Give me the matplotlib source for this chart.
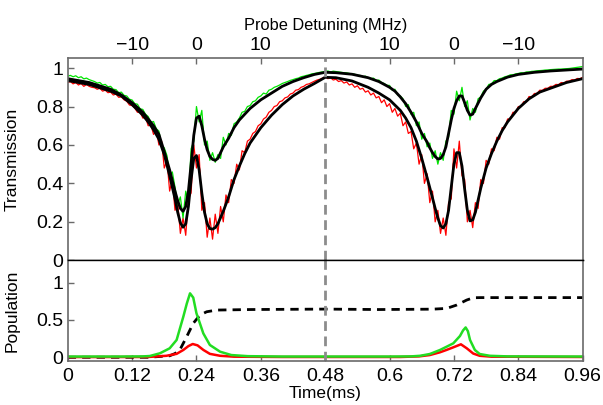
import numpy as np
import matplotlib
matplotlib.use("Agg")
import matplotlib.pyplot as plt

plt.rcParams['font.family'] = ['Liberation Sans', 'DejaVu Sans']

# ---------------- data ----------------
# noisy transmission traces, sampled every 0.005 ms from 0 to 0.96 ms
t_data = np.arange(193) * 0.005

green_data = [
    .958, .962, .955, .960, .950, .955, .944, .948, .940, .935,
    .930, .922, .925, .912, .915, .903, .905, .890, .888, .872,
    .875, .858, .855, .838, .834, .815, .812, .788, .785, .760,
    .748, .718, .722, .685, .672, .598, .585, .545, .442, .460,
    .380, .290, .330, .220, .360, .300, .580, .620, .800, .720,
    .780, .600, .620, .520, .560, .510, .550, .530, .640, .600,
    .660, .650, .710, .720, .740, .770, .775, .800, .805, .825,
    .830, .848, .855, .870, .865, .885, .890, .900, .905, .912,
    .920, .925, .930, .936, .940, .945, .948, .955, .958, .962,
    .965, .970, .972, .975, .978, .980, .982,
    .985, .980, .984, .982, .980, .978, .976, .975, .972, .970,
    .968, .962, .962, .955, .958, .950, .945, .948, .935, .938,
    .925, .920, .910, .910, .885, .890, .860, .855, .840, .800,
    .810, .760, .770, .700, .720, .630, .660, .590, .610, .530,
    .570, .500, .560, .520, .620, .640, .780, .760, .880, .830,
    .900, .800, .830, .730, .790, .770, .840, .850, .880, .890,
    .915, .918, .935, .935, .945, .948, .955, .958, .965, .965,
    .970, .972, .976, .975, .980, .980, .983, .984, .986, .987,
    .988, .990, .990, .992, .993, .994, .995, .995, .996, .997,
    .998, 1.0, 1.002, 1.004, 1.006, 1.008,
]

red_data = [
    .925, .930, .918, .925, .912, .920, .905, .915, .905, .900,
    .898, .890, .895, .880, .885, .872, .875, .860, .865, .848,
    .850, .835, .828, .808, .805, .792, .770, .772, .740, .745,
    .700, .705, .655, .680, .600, .620, .480, .520, .360, .420,
    .260, .300, .140, .220, .130, .320, .350, .600, .480, .550,
    .260, .300, .120, .220, .110, .240, .140, .280, .200, .340,
    .300, .420, .400, .500, .470, .570, .560, .620, .630, .660,
    .670, .700, .710, .735, .745, .770, .780, .800, .805, .825,
    .830, .845, .850, .865, .870, .885, .888, .900, .905, .915,
    .918, .925, .932, .938, .942, .948, .955,
    .945, .950, .938, .942, .930, .935, .922, .928, .912, .918,
    .900, .908, .890, .895, .875, .882, .860, .870, .845, .852,
    .820, .835, .800, .815, .770, .790, .750, .765, .700, .720,
    .660, .670, .580, .610, .500, .550, .400, .450, .300, .360,
    .200, .260, .140, .220, .130, .300, .320, .580, .480, .620,
    .440, .420, .200, .260, .170, .300, .270, .420, .400, .520,
    .500, .580, .570, .640, .630, .690, .690, .735, .735, .770,
    .770, .800, .800, .825, .825, .852, .850, .868, .868, .885,
    .884, .895, .895, .905, .905, .915, .914, .925, .922, .932,
    .932, .940, .938, .946, .945, .952,
]

# fitted transmission curves (knots)
green_fit_t = [0, .04, .08, .10, .12, .14, .15, .16, .17, .18, .19, .20, .205,
               .21, .215, .22, .225, .23, .235, .24, .245, .25, .255, .26, .265,
               .27, .275, .28, .29, .30, .31, .32, .34, .36, .38, .40, .42, .44,
               .46, .48, .50, .53, .56, .58, .60, .61, .62, .63, .64, .65, .66,
               .67, .675, .68, .685, .69, .695, .70, .705, .71, .715, .72, .725,
               .73, .735, .74, .745, .75, .755, .76, .77, .78, .79, .80, .82,
               .84, .87, .90, .93, .96]
green_fit = [.945, .925, .89, .86, .82, .77, .735, .70, .655, .565, .47, .36,
             .31, .27, .255, .28, .36, .50, .65, .74, .75, .70, .63, .575, .54,
             .525, .52, .53, .59, .635, .69, .73, .79, .835, .87, .905, .93,
             .95, .967, .978, .976, .968, .95, .93, .90, .88, .85, .815, .77,
             .72, .66, .615, .585, .56, .54, .527, .53, .55, .59, .66, .73,
             .79, .83, .855, .855, .82, .78, .755, .76, .79, .845, .89, .915,
             .93, .953, .967, .978, .985, .99, .995]

red_fit_t = [0, .04, .08, .10, .12, .14, .15, .16, .17, .18, .19, .20, .205,
             .21, .215, .22, .225, .23, .235, .24, .245, .25, .255, .26, .265,
             .27, .275, .28, .29, .30, .31, .32, .33, .34, .36, .38, .40, .42,
             .44, .46, .48, .50, .53, .56, .58, .60, .62, .63, .64, .65, .66,
             .67, .68, .685, .69, .695, .70, .705, .71, .715, .72, .725, .73,
             .735, .74, .745, .75, .755, .76, .77, .78, .79, .80, .81, .82,
             .84, .86, .88, .90, .93, .96]
red_fit = [.935, .915, .88, .855, .81, .755, .72, .68, .63, .55, .44, .32,
           .25, .195, .172, .19, .28, .42, .53, .545, .47, .35, .25, .19, .165,
           .162, .17, .19, .255, .33, .42, .49, .555, .61, .69, .755, .81,
           .855, .89, .92, .952, .95, .933, .90, .87, .835, .78, .74, .69,
           .62, .53, .43, .325, .27, .22, .18, .168, .19, .26, .38, .50, .56,
           .56, .49, .37, .26, .205, .21, .25, .375, .48, .555, .62, .675,
           .72, .79, .84, .875, .895, .925, .945]

# populations
green_pop_t = [0, .10, .14, .153, .172, .19, .203, .2155, .222, .228, .234,
               .240, .2528, .265, .284, .305, .336, .40, .60, .64, .657, .675,
               .694, .7064, .7188, .7312, .737, .7418, .746, .75, .759, .768,
               .787, .82, .96]
green_pop = [.01, .01, .012, .017, .054, .12, .232, .544, .72, .857, .80, .59,
             .32, .165, .075, .03, .015, .01, .01, .012, .02, .044, .098, .142,
             .187, .285, .36, .40, .35, .232, .098, .044, .02, .012, .01]

red_pop_t = [0, .15, .184, .203, .2155, .225, .233, .242, .253, .265, .284,
             .31, .40, .62, .655, .675, .694, .706, .719, .733, .744, .756,
             .768, .79, .96]
red_pop = [.003, .004, .02, .046, .098, .15, .178, .16, .098, .046, .02, .008,
           .004, .004, .012, .03, .067, .098, .134, .174, .12, .05, .02, .008,
           .004]

total_pop_t = [0, .15, .19, .20, .209, .2218, .234, .2466, .259, .2777, .34,
               .48, .58, .68, .7064, .725, .7437, .756, .77, .96]
total_pop = [0, 0, .02, .05, .098, .276, .455, .566, .61, .633, .64, .646,
             .64, .645, .655, .70, .767, .798, .80, .80]

time_ticks = [0, 0.12, 0.24, 0.36, 0.48, 0.6, 0.72, 0.84, 0.96]
time_labels = ['0', '0.12', '0.24', '0.36', '0.48', '0.6', '0.72', '0.84', '0.96']
detuning_ticks = [0.12, 0.24, 0.36, 0.6, 0.72, 0.84]
detuning_labels = ['\u221210', '0', '10', '10', '0', '\u221210']
switch_time = 0.48

# ---------------- figure ----------------
fs_tick = 14
frame = '#6a6a6a'
green = '#00e400'
fig = plt.figure(figsize=(6.03, 4.05), dpi=100)
ax1 = fig.add_axes([0.1123, 0.3573, 0.854, 0.4983])
ax2 = fig.add_axes([0.1123, 0.1086, 0.854, 0.2487])

ax1.plot(t_data, red_data, color='#ff0000', lw=0.9)
ax1.plot(t_data, green_data, color=green, lw=0.9)
ax1.plot(green_fit_t, green_fit, color='black', lw=2)
ax1.plot(red_fit_t, red_fit, color='black', lw=2)
ax1.axvline(switch_time, color='#8c8c8c', lw=2, dashes=(3.5, 2))

ax1.set_xlim(0, 0.96)
ax1.set_ylim(0, 1.05)
ax1.set_yticks([0, 0.2, 0.4, 0.6, 0.8, 1])
ax1.set_yticklabels(['0', '0.2', '0.4', '0.6', '0.8', '1'])
ax1.xaxis.tick_top()
ax1.xaxis.set_label_position('top')
ax1.set_xticks(detuning_ticks)
ax1.set_xticklabels(detuning_labels)
ax1.set_xlabel('Probe Detuning (MHz)', fontsize=11.8, labelpad=5)
ax1.set_ylabel('Transmission', fontsize=12.5)
ax1.yaxis.set_label_coords(-0.093, 0.5)

ax2.plot(total_pop_t, total_pop, color='black', lw=2, dashes=(3, 2.2))
ax2.plot(red_pop_t, red_pop, color='#ff0000', lw=1.8)
ax2.plot(green_pop_t, green_pop, color='#22dd22', lw=1.8)
ax2.axvline(switch_time, color='#8c8c8c', lw=2, dashes=(3.5, 2))

ax2.set_xlim(0, 0.96)
ax2.set_ylim(-0.05, 1.3)
ax2.set_yticks([0, 0.5, 1])
ax2.set_yticklabels(['0', '0.5', '1'])
ax2.set_xticks(time_ticks)
ax2.set_xticklabels(time_labels)
ax2.set_xlabel('Time(ms)', fontsize=12.5, labelpad=1)
ax2.set_ylabel('Population', fontsize=12.5)
ax2.yaxis.set_label_coords(-0.093, 0.5)

for ax in (ax1, ax2):
    ax.tick_params(direction='in', length=4, width=1, color=frame,
                   labelsize=fs_tick, pad=3)
    for s in ax.spines.values():
        s.set_color(frame)
        s.set_linewidth(1.2)
ax2.tick_params(axis='x', pad=5)
ax1.spines['bottom'].set_color('black')
ax1.spines['bottom'].set_linewidth(1)
ax2.spines['top'].set_color('black')
ax2.spines['top'].set_linewidth(1)

fig.savefig('out.png', dpi=100)
